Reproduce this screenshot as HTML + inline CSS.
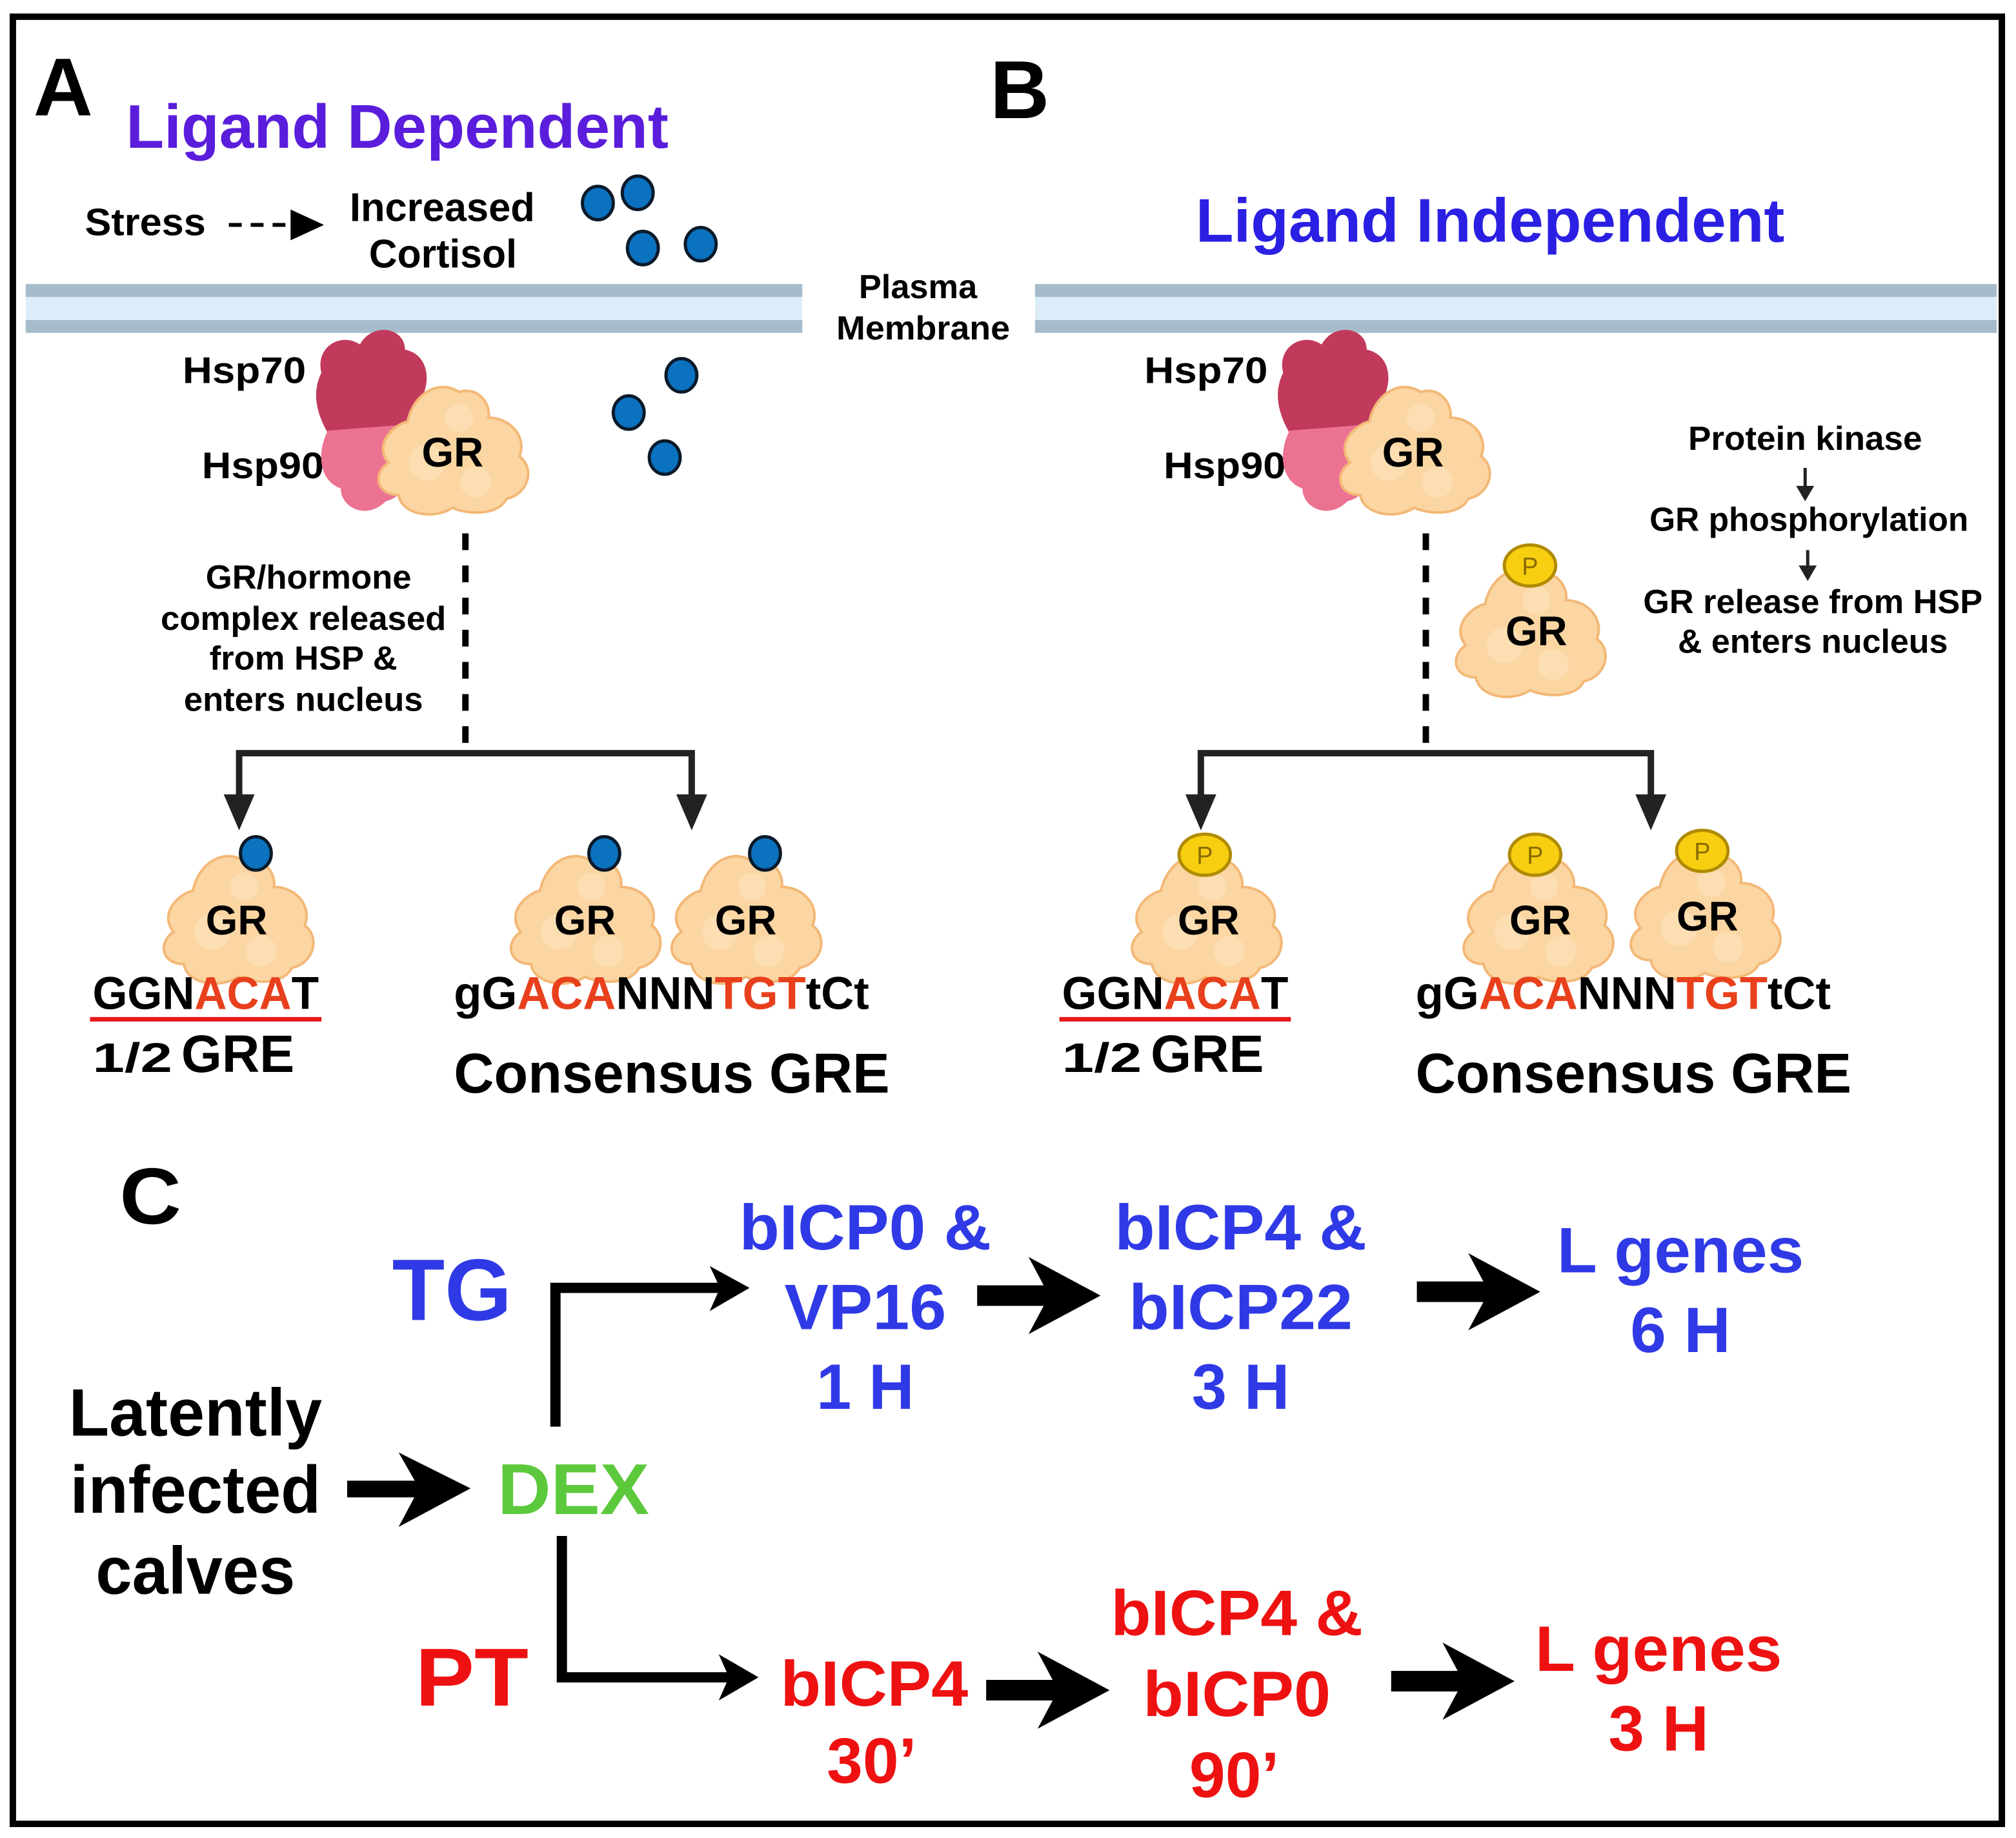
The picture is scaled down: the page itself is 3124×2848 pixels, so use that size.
<!DOCTYPE html>
<html><head><meta charset="utf-8"><style>
html,body{margin:0;padding:0;background:#fff}
svg{display:block}
text{font-family:"Liberation Sans",Arial,sans-serif;font-weight:bold}
</style></head><body>
<svg width="3124" height="2848" viewBox="0 0 1568 1430" preserveAspectRatio="none" xmlns="http://www.w3.org/2000/svg">
<defs>
<g id="gr">
 <path d="M-50,10 C-62,-5 -45,-20 -35,-22 C-30,-45 -10,-55 5,-45 C20,-50 30,-35 28,-25 C45,-25 58,-10 52,5 C65,15 58,35 42,38 C35,52 10,50 0,45 C-15,55 -40,50 -42,35 C-60,35 -62,18 -50,10 Z" fill="#fbd6a2" stroke="#f3b877" stroke-width="2"/>
 <circle cx="-20" cy="10" r="14" fill="#fde3bd" opacity="0.6"/>
 <circle cx="18" cy="25" r="12" fill="#fde3bd" opacity="0.6"/>
 <circle cx="5" cy="-25" r="11" fill="#fde3bd" opacity="0.6"/>
</g>
<g id="hsp">
 <path d="M-50,-40 C-55,-60 -35,-72 -20,-62 C-10,-80 15,-75 15,-58 C30,-55 35,-40 30,-25 C40,-10 30,5 20,10 L-40,15 C-50,0 -60,-20 -50,-40 Z" fill="#c13a5c"/>
 <path d="M-45,5 L20,0 C25,30 20,55 0,60 C-15,75 -35,65 -35,50 C-50,45 -55,25 -45,5 Z" fill="#ec7292"/>
</g>
<g id="dot"><ellipse cx="0" cy="0" rx="12" ry="13" fill="#0b72bf" stroke="#0a1a2a" stroke-width="2.5"/></g>
<g id="p"><ellipse cx="0" cy="0" rx="20" ry="16" fill="#f7cf10" stroke="#b08a00" stroke-width="2.5"/><text x="0" y="7" font-size="19" text-anchor="middle" fill="#8a6a00" style="font-weight:normal">P</text></g>
</defs>

<rect x="10" y="13" width="1547" height="1406" fill="none" stroke="#000" stroke-width="5"/>

<!-- A -->
<text x="26" y="90" font-size="64">A</text>
<text x="98" y="115" font-size="48" fill="#5a1ddc" textLength="422" lengthAdjust="spacingAndGlyphs">Ligand Dependent</text>
<text x="66" y="183" font-size="30" textLength="94" lengthAdjust="spacingAndGlyphs">Stress</text>
<line x1="178" y1="175" x2="228" y2="175" stroke="#000" stroke-width="3" stroke-dasharray="10,7"/>
<polygon points="226,163 252,175 226,187" fill="#000"/>
<text x="272" y="172" font-size="31" textLength="144" lengthAdjust="spacingAndGlyphs">Increased</text>
<text x="287" y="208" font-size="31" textLength="115" lengthAdjust="spacingAndGlyphs">Cortisol</text>
<use href="#dot" x="465" y="158"/><use href="#dot" x="496" y="150"/><use href="#dot" x="500" y="193"/><use href="#dot" x="545" y="190"/>
<use href="#dot" x="530" y="292"/><use href="#dot" x="489" y="321"/><use href="#dot" x="517" y="356"/>

<!-- membranes -->
<rect x="20" y="221" width="604" height="38" fill="#dcedf9"/>
<rect x="20" y="221" width="604" height="10" fill="#a7bccb"/>
<rect x="20" y="249" width="604" height="10" fill="#a7bccb"/>
<rect x="805" y="221" width="748" height="38" fill="#dcedf9"/>
<rect x="805" y="221" width="748" height="10" fill="#a7bccb"/>
<rect x="805" y="249" width="748" height="10" fill="#a7bccb"/>
<text x="714" y="232" font-size="26" text-anchor="middle" textLength="92" lengthAdjust="spacingAndGlyphs">Plasma</text>
<text x="718" y="264" font-size="26" text-anchor="middle" textLength="135" lengthAdjust="spacingAndGlyphs">Membrane</text>

<!-- A complex -->
<text x="142" y="298" font-size="29" textLength="96" lengthAdjust="spacingAndGlyphs">Hsp70</text>
<text x="157" y="372" font-size="29" textLength="95" lengthAdjust="spacingAndGlyphs">Hsp90</text>
<use href="#hsp" x="300" y="330"/>
<use href="#gr" x="352" y="350"/>
<text x="352" y="363" font-size="32" text-anchor="middle">GR</text>
<line x1="362" y1="415" x2="362" y2="582" stroke="#000" stroke-width="5" stroke-dasharray="13,12"/>
<g font-size="26" text-anchor="middle">
<text x="240" y="458" textLength="160" lengthAdjust="spacingAndGlyphs">GR/hormone</text>
<text x="236" y="490" textLength="222" lengthAdjust="spacingAndGlyphs">complex released</text>
<text x="236" y="521" textLength="146" lengthAdjust="spacingAndGlyphs">from HSP &amp;</text>
<text x="236" y="553" textLength="186" lengthAdjust="spacingAndGlyphs">enters nucleus</text>
</g>
<path d="M186,622 L186,586 L538,586 L538,622" fill="none" stroke="#222" stroke-width="5"/>
<polygon points="174,618 198,618 186,646" fill="#222"/>
<polygon points="526,618 550,618 538,646" fill="#222"/>
<use href="#gr" x="185" y="715"/><text x="184" y="727" font-size="32" text-anchor="middle">GR</text><use href="#dot" x="199" y="664"/>
<use href="#gr" x="455" y="715"/><text x="455" y="727" font-size="32" text-anchor="middle">GR</text><use href="#dot" x="470" y="664"/>
<use href="#gr" x="580" y="715"/><text x="580" y="727" font-size="32" text-anchor="middle">GR</text><use href="#dot" x="595" y="664"/>
<text x="72" y="785" font-size="36" textLength="176" lengthAdjust="spacingAndGlyphs">GGN<tspan fill="#e8401c">ACA</tspan>T</text>
<line x1="70" y1="793" x2="250" y2="793" stroke="#e81818" stroke-width="3.5"/>
<text x="72" y="834" font-size="32" textLength="62" lengthAdjust="spacingAndGlyphs">1/2</text>
<text x="141" y="834" font-size="41" textLength="88" lengthAdjust="spacingAndGlyphs">GRE</text>
<text x="353" y="785" font-size="36" textLength="323" lengthAdjust="spacingAndGlyphs">gG<tspan fill="#e8401c">ACA</tspan>NNN<tspan fill="#e8401c">TGT</tspan>tCt</text>
<text x="353" y="850" font-size="44" textLength="339" lengthAdjust="spacingAndGlyphs">Consensus  GRE</text>

<!-- B -->
<text x="770" y="92" font-size="64">B</text>
<text x="930" y="188" font-size="48" fill="#2a1fe2" textLength="458" lengthAdjust="spacingAndGlyphs">Ligand Independent</text>
<text x="890" y="298" font-size="29" textLength="96" lengthAdjust="spacingAndGlyphs">Hsp70</text>
<text x="905" y="372" font-size="29" textLength="95" lengthAdjust="spacingAndGlyphs">Hsp90</text>
<use href="#hsp" x="1048" y="330"/>
<use href="#gr" x="1100" y="350"/>
<text x="1099" y="363" font-size="32" text-anchor="middle">GR</text>
<line x1="1109" y1="415" x2="1109" y2="582" stroke="#000" stroke-width="5" stroke-dasharray="13,12"/>
<use href="#gr" x="1190" y="492"/><text x="1195" y="502" font-size="32" text-anchor="middle">GR</text><use href="#p" x="1190" y="440"/>
<g font-size="26" text-anchor="middle">
<text x="1404" y="350" textLength="182" lengthAdjust="spacingAndGlyphs">Protein kinase</text>
<text x="1407" y="413" textLength="248" lengthAdjust="spacingAndGlyphs">GR phosphorylation</text>
<text x="1410" y="477" textLength="264" lengthAdjust="spacingAndGlyphs">GR release from HSP</text>
<text x="1410" y="508" textLength="210" lengthAdjust="spacingAndGlyphs">&amp; enters nucleus</text>
</g>
<line x1="1404" y1="364" x2="1404" y2="380" stroke="#222" stroke-width="2.5"/><polygon points="1397,378 1411,378 1404,390" fill="#222"/>
<line x1="1406" y1="428" x2="1406" y2="442" stroke="#222" stroke-width="2.5"/><polygon points="1399,440 1413,440 1406,452" fill="#222"/>
<path d="M934,622 L934,586 L1284,586 L1284,622" fill="none" stroke="#222" stroke-width="5"/>
<polygon points="922,618 946,618 934,646" fill="#222"/>
<polygon points="1272,618 1296,618 1284,646" fill="#222"/>
<use href="#gr" x="938" y="715"/><text x="940" y="727" font-size="32" text-anchor="middle">GR</text><use href="#p" x="937" y="665"/>
<use href="#gr" x="1196" y="715"/><text x="1198" y="727" font-size="32" text-anchor="middle">GR</text><use href="#p" x="1194" y="665"/>
<use href="#gr" x="1326" y="712"/><text x="1328" y="724" font-size="32" text-anchor="middle">GR</text><use href="#p" x="1324" y="662"/>
<text x="826" y="785" font-size="36" textLength="176" lengthAdjust="spacingAndGlyphs">GGN<tspan fill="#e8401c">ACA</tspan>T</text>
<line x1="824" y1="793" x2="1004" y2="793" stroke="#e81818" stroke-width="3.5"/>
<text x="826" y="834" font-size="32" textLength="62" lengthAdjust="spacingAndGlyphs">1/2</text>
<text x="895" y="834" font-size="41" textLength="88" lengthAdjust="spacingAndGlyphs">GRE</text>
<text x="1101" y="785" font-size="36" textLength="323" lengthAdjust="spacingAndGlyphs">gG<tspan fill="#e8401c">ACA</tspan>NNN<tspan fill="#e8401c">TGT</tspan>tCt</text>
<text x="1101" y="850" font-size="44" textLength="339" lengthAdjust="spacingAndGlyphs">Consensus  GRE</text>

<!-- C -->
<text x="93" y="952" font-size="62" textLength="48" lengthAdjust="spacingAndGlyphs">C</text>
<text x="305" y="1027" font-size="68" fill="#2f3ae6" textLength="93" lengthAdjust="spacingAndGlyphs">TG</text>
<g font-size="52" text-anchor="middle">
<text x="152" y="1117" textLength="197" lengthAdjust="spacingAndGlyphs">Latently</text>
<text x="152" y="1177" textLength="195" lengthAdjust="spacingAndGlyphs">infected</text>
<text x="152" y="1240" textLength="155" lengthAdjust="spacingAndGlyphs">calves</text>
</g>
<text x="387" y="1178" font-size="56" fill="#5cc93c" textLength="118" lengthAdjust="spacingAndGlyphs">DEX</text>
<text x="323" y="1327" font-size="64" fill="#ee1111" textLength="88" lengthAdjust="spacingAndGlyphs">PT</text>

<g fill="#000">
<!-- latently arrow -->
<rect x="270" y="1152" width="62" height="13"/><polygon points="310,1130 366,1158 310,1188 326,1158"/>
<!-- TG bracket -->
<path d="M432,1110 L432,1002 L565,1002" fill="none" stroke="#000" stroke-width="8"/>
<polygon points="552,985 583,1002 552,1020 560,1002"/>
<!-- PT bracket -->
<path d="M437,1195 L437,1305 L572,1305" fill="none" stroke="#000" stroke-width="8"/>
<polygon points="559,1287 590,1305 559,1323 567,1305"/>
<!-- upper arrows -->
<rect x="760" y="1000" width="60" height="16"/><polygon points="800,978 856,1008 800,1038 816,1008"/>
<rect x="1102" y="997" width="62" height="16"/><polygon points="1142,975 1198,1005 1142,1035 1158,1005"/>
<!-- lower arrows -->
<rect x="767" y="1307" width="62" height="16"/><polygon points="807,1285 863,1315 807,1345 823,1315"/>
<rect x="1082" y="1300" width="62" height="16"/><polygon points="1122,1278 1178,1308 1122,1338 1138,1308"/>
</g>

<g font-size="50" text-anchor="middle" fill="#2f3ae6">
<text x="673" y="972" textLength="196" lengthAdjust="spacingAndGlyphs">bICP0 &amp;</text>
<text x="673" y="1034" textLength="126" lengthAdjust="spacingAndGlyphs">VP16</text>
<text x="673" y="1096" textLength="76" lengthAdjust="spacingAndGlyphs">1 H</text>
<text x="965" y="972" textLength="196" lengthAdjust="spacingAndGlyphs">bICP4 &amp;</text>
<text x="965" y="1034" textLength="174" lengthAdjust="spacingAndGlyphs">bICP22</text>
<text x="965" y="1096" textLength="76" lengthAdjust="spacingAndGlyphs">3 H</text>
<text x="1307" y="990" textLength="192" lengthAdjust="spacingAndGlyphs">L genes</text>
<text x="1307" y="1052" textLength="78" lengthAdjust="spacingAndGlyphs">6 H</text>
</g>
<g font-size="50" text-anchor="middle" fill="#ee1111">
<text x="680" y="1327" textLength="146" lengthAdjust="spacingAndGlyphs">bICP4</text>
<text x="678" y="1387" textLength="70" lengthAdjust="spacingAndGlyphs">30’</text>
<text x="962" y="1272" textLength="196" lengthAdjust="spacingAndGlyphs">bICP4 &amp;</text>
<text x="962" y="1335" textLength="146" lengthAdjust="spacingAndGlyphs">bICP0</text>
<text x="960" y="1398" textLength="70" lengthAdjust="spacingAndGlyphs">90’</text>
<text x="1290" y="1300" textLength="192" lengthAdjust="spacingAndGlyphs">L genes</text>
<text x="1290" y="1362" textLength="78" lengthAdjust="spacingAndGlyphs">3 H</text>
</g>
</svg>
</body></html>
